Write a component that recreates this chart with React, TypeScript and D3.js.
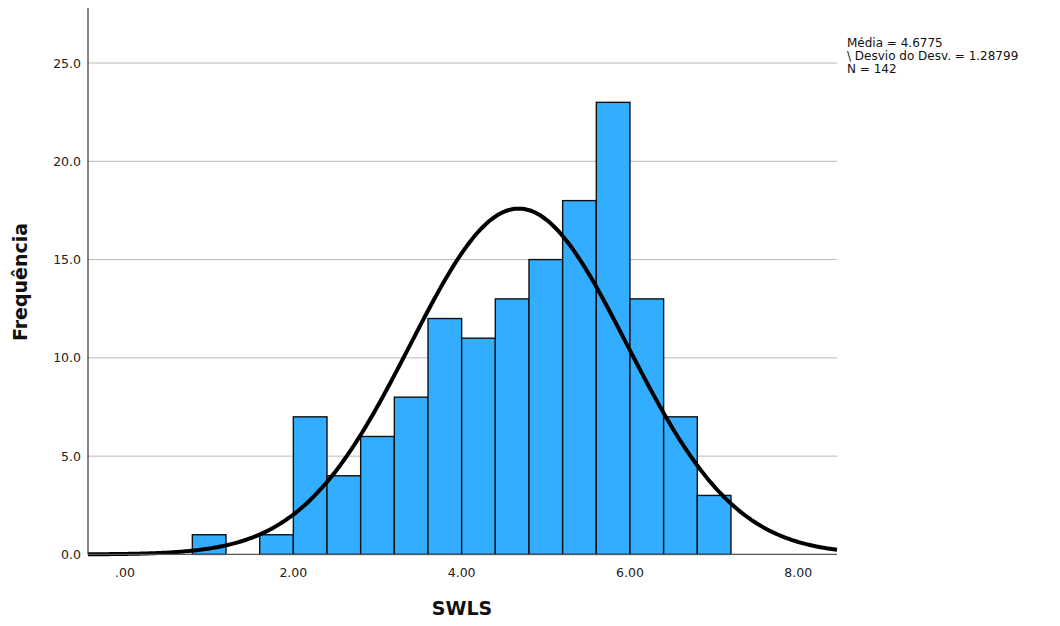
import React from "react";
import * as d3 from "d3";

const binStarts = [0.8, 1.2, 1.6, 2.0, 2.4, 2.8, 3.2, 3.6, 4.0, 4.4, 4.8, 5.2, 5.6, 6.0, 6.4, 6.8];
const counts = [1, 0, 1, 7, 4, 6, 8, 12, 11, 13, 15, 18, 23, 13, 7, 3];
const binWidth = 0.4;
const xTicks = [0, 2, 4, 6, 8];
const yTicks = [0, 5, 10, 15, 20, 25];
const mean = 4.6775;
const sd = 1.28799;
const n = 142;
const legendLines = ["Média = 4.6775", "\\ Desvio do Desv. = 1.28799", "N = 142"];

export default function App() {
  const W = 1060, H = 626;
  const x = d3.scaleLinear().domain([-0.44, 8.46]).range([88, 837]);
  const y = d3.scaleLinear().domain([0, 27.8]).range([554.4, 8]);
  const font = "'DejaVu Sans', 'Liberation Sans', sans-serif";

  const curvePts: [number, number][] = d3.range(0, 401).map((i) => {
    const xv = -0.44 + (8.9 * i) / 400;
    const z = (xv - mean) / sd;
    const v = (n * binWidth) / (sd * Math.sqrt(2 * Math.PI)) * Math.exp(-0.5 * z * z);
    return [xv, v];
  });
  const line = d3.line<[number, number]>().x((d) => x(d[0])).y((d) => y(d[1])).curve(d3.curveBasis);

  return (
    <svg width={W} height={H} style={{ position: "absolute", left: 0, top: 0, background: "#fff" }}>
      {yTicks.filter((t) => t > 0).map((t) => (
        <line key={"g" + t} x1={88} x2={837} y1={y(t)} y2={y(t)} stroke="#b8b8b8" strokeWidth={1} />
      ))}
      {binStarts.map((b, i) =>
        counts[i] > 0 ? (
          <rect key={i} x={x(b)} y={y(counts[i])} width={x(b + binWidth) - x(b)} height={y(0) - y(counts[i])}
            fill="#33adff" stroke="#111" strokeWidth={1.4} />
        ) : null
      )}
      <path d={line(curvePts) || ""} fill="none" stroke="#000" strokeWidth={4} />
      <line x1={88} x2={88} y1={8} y2={554.4} stroke="#333" strokeWidth={1.2} />
      <line x1={88} x2={837} y1={554.4} y2={554.4} stroke="#555" strokeWidth={1.2} />
      {yTicks.map((t) => (
        <text key={"y" + t} x={81} y={y(t) + 4.5} textAnchor="end" fontFamily={font} fontSize={12.5} fill="#222">
          {t.toFixed(1)}
        </text>
      ))}
      {xTicks.map((t) => (
        <text key={"x" + t} x={x(t)} y={577} textAnchor="middle" fontFamily={font} fontSize={12.5} fill="#222">
          {t === 0 ? ".00" : t.toFixed(2)}
        </text>
      ))}
      <text x={462} y={615} textAnchor="middle" fontFamily={font} fontSize={19} fontWeight="bold" fill="#111">SWLS</text>
      <text transform={`translate(27,282) rotate(-90)`} textAnchor="middle" fontFamily={font} fontSize={19} fontWeight="bold" fill="#111">
        Frequência
      </text>
      {legendLines.map((s, i) => (
        <text key={"l" + i} x={847} y={47 + i * 13} fontFamily={font} fontSize={12} fill="#111">{s}</text>
      ))}
    </svg>
  );
}
